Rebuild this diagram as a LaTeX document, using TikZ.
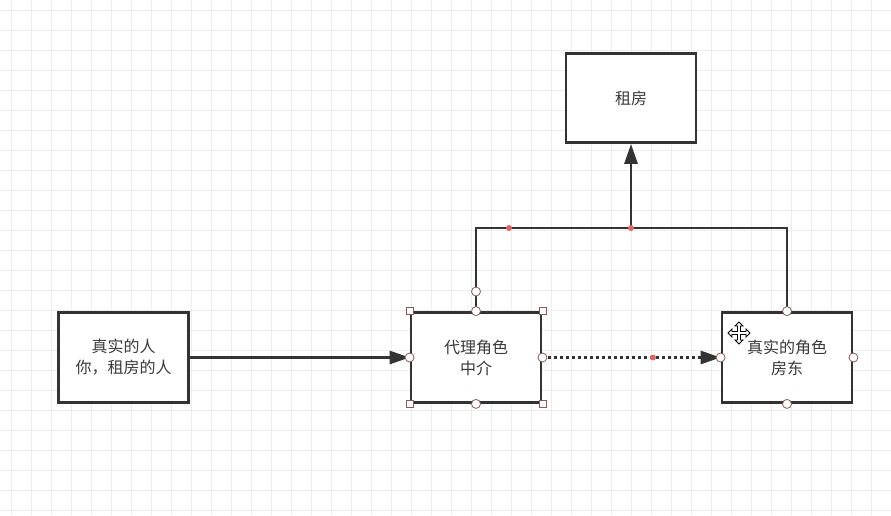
\documentclass[tikz,border=0pt]{standalone}
\usepackage{fontspec}
\newfontfamily\cjk{Noto Sans CJK SC}
\usetikzlibrary{arrows.meta}
\definecolor{ln}{HTML}{333333}
\definecolor{txt}{HTML}{3A3A3A}
\definecolor{gridminor}{HTML}{EDEDED}
\definecolor{hdl}{HTML}{8A5A5A}
\definecolor{reddot}{HTML}{E06666}
\tikzset{
  box/.style={draw=ln, line width=2.8pt, fill=white, minimum width=130pt, minimum height=90pt,
    inner sep=0pt, font=\cjk\fontsize{16}{21}\selectfont, text=txt, align=center},
  conn/.style={draw=ln, line width=2.8pt},
  tip/.style={-{Triangle[length=20pt,width=13pt]}},
  sq/.style={draw=hdl, fill=white, line width=0.8pt, minimum size=7pt, inner sep=0pt},
  ci/.style={circle, draw=hdl, fill=white, line width=0.8pt, minimum size=9pt, inner sep=0pt},
  rd/.style={circle, fill=reddot, minimum size=6pt, inner sep=0pt},
  gridline/.style={draw=gridminor, line width=1pt},
}
\begin{document}
\begin{tikzpicture}[x=1pt,y=-1pt]
\fill[white] (0,0) rectangle (891,515);
\useasboundingbox (0,0) rectangle (891,515);
% grid
\foreach \i in {0,...,44} {\draw[gridline] (11.7+20*\i,0) -- (11.7+20*\i,515);}
\foreach \j in {0,...,25} {\draw[gridline] (0,10+20*\j) -- (891,10+20*\j);}
% boxes
\node[box] (you) at (123.5,357.5) {真实的人\\你，租房的人};
\node[box] (agent) at (476,357.5) {代理角色\\中介};
\node[box] (owner) at (787,357.5) {真实的角色\\房东};
\node[box, minimum height=89pt] (rent) at (631,98) {租房};
% connectors
\coordinate (j) at (631,228);
\draw[conn,tip] (you.east) -- (agent.west);
\draw[conn,tip,dash pattern=on 2.6pt off 3.4pt] (agent.east) -- (owner.west);
\draw[conn] (agent.north) |- (j) -| (owner.north);
\draw[conn,tip] (j) -- (rent.south);
% red dots
\node[rd] (r1) at (509,228) {};
\node[rd] (r2) at (j) {};
\node[rd] (r3) at (653,357.5) {};
% handles on agent
\foreach \a in {north west,north east,south west,south east} {\node[sq] at (agent.\a) {};}
\foreach \a in {north,south,east,west} {\node[ci] at (agent.\a) {};}
\node[ci] (rot) at (476,291.5) {};
% handles on owner
\foreach \a in {north,south,east,west} {\node[ci] at (owner.\a) {};}
% move cursor
\begin{scope}[shift={(739,333)}]
\draw[black, fill=white, line width=0.8pt, line join=miter]
 (0,-11) -- (4,-7) -- (1.5,-7) -- (1.5,-1.5) -- (7,-1.5) -- (7,-4) -- (11,0) -- (7,4) -- (7,1.5)
 -- (1.5,1.5) -- (1.5,7) -- (4,7) -- (0,11) -- (-4,7) -- (-1.5,7) -- (-1.5,1.5) -- (-7,1.5)
 -- (-7,4) -- (-11,0) -- (-7,-4) -- (-7,-1.5) -- (-1.5,-1.5) -- (-1.5,-7) -- (-4,-7) -- cycle;
\end{scope}
\end{tikzpicture}
\end{document}
